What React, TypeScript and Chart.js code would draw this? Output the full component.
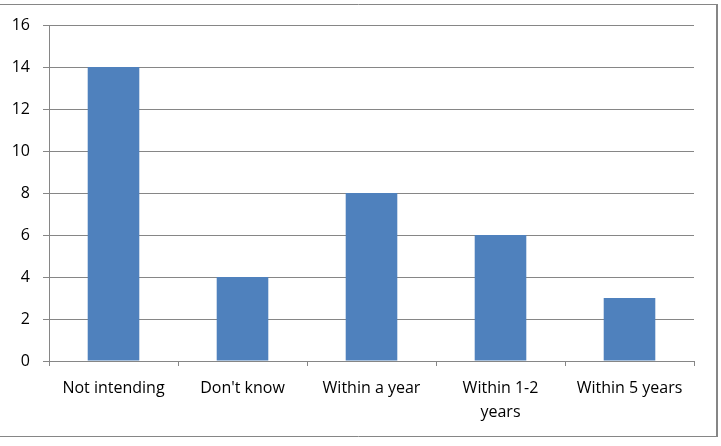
import React, { useEffect, useRef } from "react";
import { Chart, registerables } from "chart.js";

Chart.register(...registerables);

const categories: (string | string[])[] = [
  "Not intending",
  "Don't know",
  "Within a year",
  ["Within 1-2", "years"],
  "Within 5 years",
];
const values: number[] = [14, 4, 8, 6, 3];
const yMin = 0;
const yMax = 16;
const yStep = 2;

const FONT = "'Open Sans', sans-serif";

const frame = {
  id: "frame",
  afterDraw(chart: any) {
    const ctx = chart.ctx;
    ctx.save();
    ctx.strokeStyle = "#868686";
    ctx.lineWidth = 1;
    ctx.beginPath();
    ctx.moveTo(0, 4.5);
    ctx.lineTo(717, 4.5);
    ctx.moveTo(0, 436.5);
    ctx.lineTo(717, 436.5);
    ctx.stroke();
    ctx.lineWidth = 2;
    ctx.beginPath();
    ctx.moveTo(717, 4);
    ctx.lineTo(717, 437);
    ctx.stroke();
    ctx.restore();
  },
};

export default function App() {
  const ref = useRef<HTMLCanvasElement | null>(null);

  useEffect(() => {
    document.body.style.margin = "0";
    const canvas = ref.current;
    if (!canvas) return;
    const chart = new Chart(canvas, {
      type: "bar",
      data: {
        labels: categories,
        datasets: [
          {
            data: values,
            backgroundColor: "#4F81BD",
            borderWidth: 0,
            categoryPercentage: 1,
            barPercentage: 0.4,
          },
        ],
      },
      options: {
        responsive: false,
        animation: false,
        devicePixelRatio: 1,
        layout: { padding: { left: 0, right: 27, top: 25, bottom: 0 } },
        plugins: {
          legend: { display: false },
          tooltip: { enabled: false },
        },
        scales: {
          x: {
            afterFit(scale: any) {
              scale.height = 85;
            },
            grid: {
              display: true,
              drawOnChartArea: false,
              drawTicks: true,
              tickLength: 5,
              color: "#868686",
              offset: true,
            },
            border: { color: "#868686", width: 1 },
            ticks: {
              color: "#000",
              font: { family: FONT, size: 16, lineHeight: 1.5 },
              padding: 10,
              maxRotation: 0,
              autoSkip: false,
            },
          },
          y: {
            min: yMin,
            max: yMax,
            afterFit(scale: any) {
              scale.width = 49;
            },
            grid: {
              color: "#868686",
              drawTicks: true,
              tickLength: 6,
            },
            border: { color: "#868686", width: 1 },
            ticks: {
              stepSize: yStep,
              color: "#000",
              font: { family: FONT, size: 16 },
              padding: 13,
            },
          },
        },
      },
      plugins: [frame],
    });
    return () => chart.destroy();
  }, []);

  return (
    <div style={{ position: "absolute", left: 0, top: 0, width: 721, height: 446, background: "#fff" }}>
      <canvas ref={ref} width={721} height={446} style={{ display: "block" }} />
    </div>
  );
}
